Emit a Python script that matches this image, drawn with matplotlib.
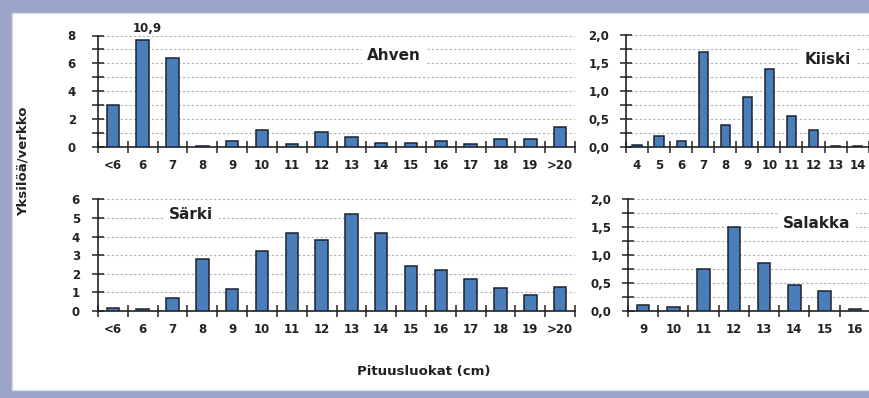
import matplotlib
matplotlib.use("Agg")
import matplotlib.pyplot as plt
import matplotlib.ticker as mticker
from matplotlib.patches import Rectangle
import numpy as np

plt.rcParams['font.family'] = ['DejaVu Sans']

# ---- data ----
cats_long = ["<6", "6", "7", "8", "9", "10", "11", "12", "13", "14", "15", "16", "17", "18", "19", ">20"]
ahven = [3.0, 10.9, 6.4, 0.1, 0.4, 1.2, 0.2, 1.1, 0.7, 0.3, 0.3, 0.4, 0.2, 0.6, 0.6, 1.4]
sarki = [0.15, 0.1, 0.7, 2.8, 1.2, 3.2, 4.2, 3.8, 5.2, 4.2, 2.4, 2.2, 1.7, 1.25, 0.85, 1.3]
kiiski_cats = ["4", "5", "6", "7", "8", "9", "10", "11", "12", "13", "14"]
kiiski = [0.03, 0.2, 0.1, 1.7, 0.4, 0.9, 1.4, 0.55, 0.3, 0.02, 0.02]
salakka_cats = ["9", "10", "11", "12", "13", "14", "15", "16"]
salakka = [0.1, 0.08, 0.75, 1.5, 0.86, 0.46, 0.35, 0.04]

ahven_cap = 7.65  # clipped bar display height (value shown as label)

W, H = 870, 398
fig = plt.figure(figsize=(W / 100, H / 100), dpi=100)
fig.patch.set_facecolor('#9aa5c9')
# white panel
fig.add_artist(Rectangle((12 / W, 1 - 390 / H), (W - 12) / W, (390 - 13) / H,
                         transform=fig.transFigure, facecolor='white',
                         edgecolor='#d8dcea', linewidth=1.0, zorder=0))

BAR = '#4a7ebb'
EDGE = '#1c2230'
TXT = '#222222'
TICK_FS = 8.5


def ax_rect(l, r, b, t):
    return [l / W, 1 - b / H, (r - l) / W, (b - t) / H]


def comma(x, pos):
    return f"{x:.1f}".replace('.', ',')


def style(ax, cats, vals, ymax, major, minor, xmax, ypad, fmt=None, title=None, tpos=None):
    x = np.arange(len(cats))
    ax.bar(x, vals, width=0.42, color=BAR, edgecolor=EDGE, linewidth=1.1, zorder=3)
    ax.set_xlim(-0.5, xmax)
    ax.set_ylim(0, ymax)
    ax.set_xticks(x)
    ax.set_xticklabels(cats)
    ax.set_xticks(np.arange(len(cats) + 1) - 0.5, minor=True)
    ax.tick_params(axis='x', which='major', length=0, pad=8.5, labelsize=TICK_FS, colors=TXT)
    ax.tick_params(axis='x', which='minor', direction='inout', length=8, width=1.1, color='#222222')
    ax.yaxis.set_major_locator(mticker.MultipleLocator(major))
    ax.yaxis.set_minor_locator(mticker.MultipleLocator(minor))
    ax.tick_params(axis='y', which='both', direction='inout', length=8, width=1.1,
                   color='#222222', labelsize=TICK_FS, labelcolor=TXT, pad=ypad)
    if fmt:
        ax.yaxis.set_major_formatter(mticker.FuncFormatter(fmt))
    for lab in ax.get_xticklabels() + ax.get_yticklabels():
        lab.set_fontweight('bold')
    ax.grid(True, axis='y', which='both', linestyle=(0, (2, 2)), color='#b0b0b0', linewidth=0.8, zorder=0)
    for s in ['top', 'right']:
        ax.spines[s].set_visible(False)
    for s in ['left', 'bottom']:
        ax.spines[s].set_linewidth(1.2)
        ax.spines[s].set_color('#222222')
    ax.set_facecolor('none')
    if title:
        fig.text(tpos[0] / W, 1 - tpos[1] / H, title, ha='center', va='center',
                 fontsize=11, fontweight='bold', color=TXT,
                 bbox=dict(facecolor='white', edgecolor='none', pad=4), zorder=5)


ax1 = fig.add_axes(ax_rect(98, 575, 147, 35.5))
style(ax1, cats_long, np.minimum(ahven, ahven_cap), 8, 2, 1, 15.5, ypad=12,
      title='Ahven', tpos=(394, 55))
ax1.text(1.15, 8.05, comma(ahven[1], 0), ha='center', va='bottom', fontsize=TICK_FS,
         fontweight='bold', color=TXT, clip_on=False)

ax2 = fig.add_axes(ax_rect(626, 870, 147, 35))
style(ax2, kiiski_cats, kiiski, 2.0, 0.5, 0.25, 10.56, ypad=8, fmt=comma,
      title='Kiiski', tpos=(828, 60))

ax3 = fig.add_axes(ax_rect(98, 575, 311, 199.3))
style(ax3, cats_long, sarki, 6, 1, 1, 15.5, ypad=9, title='Särki', tpos=(191, 215))

ax4 = fig.add_axes(ax_rect(628, 870, 311, 199))
style(ax4, salakka_cats, salakka, 2.0, 0.5, 0.25, 7.43, ypad=8, fmt=comma,
      title='Salakka', tpos=(817, 223))

fig.text(23 / W, 1 - 161 / H, 'Yksilöä/verkko', rotation=90, ha='center', va='center',
         fontsize=9.5, fontweight='bold', color=TXT)
fig.text(424 / W, 1 - 372 / H, 'Pituusluokat (cm)', ha='center', va='center',
         fontsize=9.5, fontweight='bold', color=TXT)

fig.savefig('out.png', dpi=100, facecolor=fig.get_facecolor())
